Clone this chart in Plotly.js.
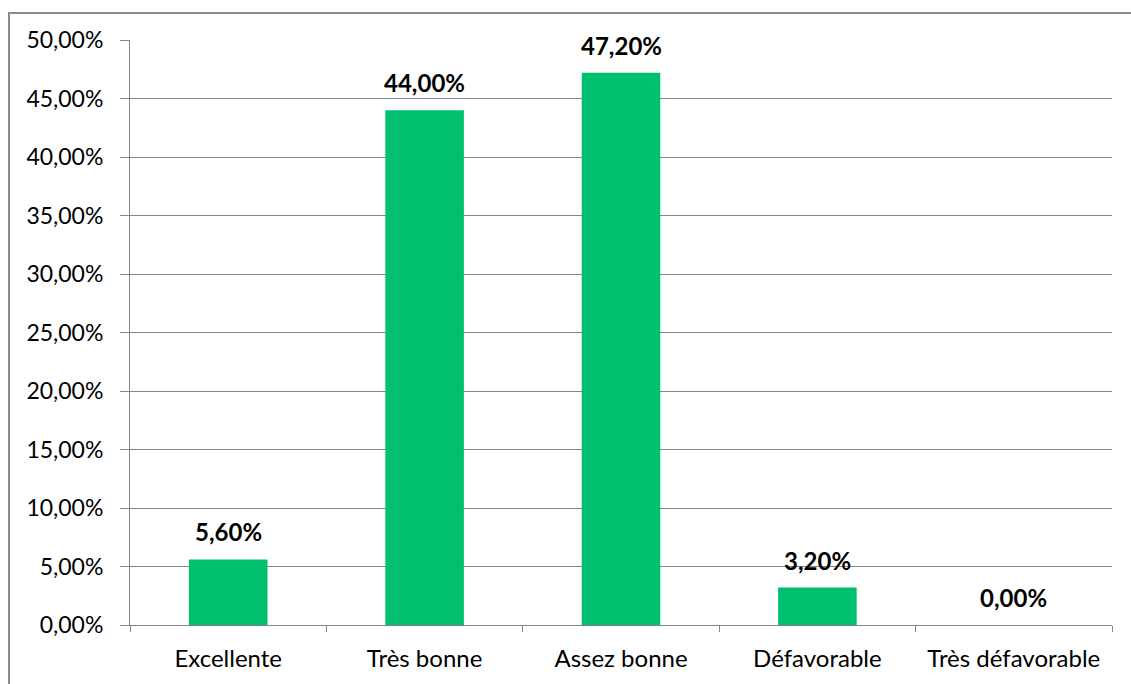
<!DOCTYPE html>
<html><head><meta charset="utf-8">
<script src="https://cdn.plot.ly/plotly-3.0.1.min.js"></script>
<style>body{margin:0;background:#fff}#wrap{position:relative;width:1131px;height:684px}
#frame{position:absolute;left:8px;top:12px;width:1200px;height:800px;border-left:2px solid #8c8c8c;border-top:2px solid #8c8c8c;pointer-events:none}</style>
</head><body><div id="wrap"><div id="chart" style="width:1131px;height:684px"></div><div id="frame"></div></div>
<script>
const categories = ["Excellente", "Très bonne", "Assez bonne", "Défavorable", "Très défavorable"];
const values = [0.056, 0.44, 0.472, 0.032, 0.0];
const labels = ["5,60%", "44,00%", "47,20%", "3,20%", "0,00%"];
const FONT = "Lato, 'Open Sans', sans-serif";
const trace = {type:'bar', x:categories, y:values, marker:{color:'#00C070'}, width:0.4, hoverinfo:'none'};
const annotations = categories.map((c,i)=>({x:c, y:values[i], text:'<b>'+labels[i]+'</b>', showarrow:false, yanchor:'bottom', yshift:11, font:{family:FONT, size:24, color:'#000'}}));
const layout = {
  width:1131, height:684, margin:{l:130, r:19, t:40, b:59},
  paper_bgcolor:'rgba(0,0,0,0)', plot_bgcolor:'#fff', separators:', ', showlegend:false,
  font:{family:FONT, size:24, color:'#000'},
  xaxis:{type:'category', tickson:'boundaries', ticks:'outside', ticklen:6, tickcolor:'#868686', showline:true, linecolor:'#868686', linewidth:1, showgrid:false, tickfont:{family:FONT, size:24}, ticklabelstandoff:12},
  yaxis:{range:[0,0.5], dtick:0.05, tickformat:'.2%', ticks:'outside', ticklen:9, tickcolor:'#868686', showline:true, linecolor:'#868686', gridcolor:'#868686', gridwidth:1, zeroline:false, tickfont:{family:FONT, size:23}, ticklabelstandoff:12},
  annotations:annotations
};
Plotly.newPlot('chart', [trace], layout, {staticPlot:true});
</script></body></html>
